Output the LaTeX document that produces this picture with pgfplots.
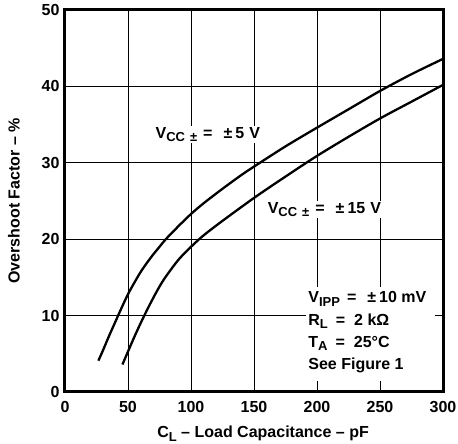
\documentclass[border=0pt]{standalone}
\usepackage{fontspec}
\setmainfont{Liberation Sans}
\usepackage{pgfplots}
\pgfplotsset{compat=1.18}
\newcommand{\sub}[1]{\raisebox{-3.5pt}{\fontsize{13}{14}\selectfont #1}}

\begin{document}
\begin{tikzpicture}
\begin{axis}[
    name=ax,
    scale only axis,
    width=378pt, height=382pt,
    xmin=0, xmax=300, ymin=0, ymax=50,
    xtick={0,50,...,300},
    ytick={0,10,...,50},
    major tick length=0pt,
    grid=major,
    grid style={black, line width=0.9pt},
    axis line style={line width=3pt},
    font=\fontsize{16}{19}\selectfont\bfseries,
    /pgf/number format/assume math mode=true,
    tick label style={font=\fontsize{16}{19}\selectfont\bfseries},
    xticklabel style={yshift=-6pt},
    yticklabel style={xshift=-2pt},
    xlabel={C\sub{L} – Load Capacitance – pF},
    ylabel={Overshoot Factor – \%},
    every axis x label/.style={at={(axis description cs:0.524,-0.120)}, anchor=base},
    every axis y label/.style={at={(axis description cs:-0.135,0.5)}, rotate=90, anchor=center},
]
% VCC = +-5 V
\addplot[black, line width=2.3pt, smooth] coordinates {
  (26.5,4.1) (30,5.4) (35,7.35) (40,9.2) (45,11.05) (50,12.8) (55,14.3)
  (60,15.7) (65,16.9) (70,18.0) (75,19.0) (80,20.0) (90,21.7) (100,23.3)
  (110,24.7) (125,26.6) (140,28.4) (150,29.5) (175,32.15) (200,34.6)
  (225,37.0) (250,39.4) (275,41.6) (300,43.6)
};
% VCC = +-15 V
\addplot[black, line width=2.3pt, smooth] coordinates {
  (45.6,3.6) (50,5.3) (55,7.2) (60,9.0) (65,10.7) (70,12.3) (75,13.8)
  (80,15.1) (90,17.3) (100,19.0) (110,20.5) (125,22.4) (150,25.4)
  (175,28.2) (200,30.9) (225,33.4) (250,35.8) (275,38.0) (300,40.2)
};
\node[anchor=base west, fill=white, inner sep=1pt] at (axis cs:71,33.2)
  {V\sub{CC\hspace{5pt}±}\hspace{6pt}=\hspace{11pt}±\hspace{3pt}5\hspace{5pt}V};
\node[anchor=base west, fill=white, inner sep=1pt] at (axis cs:160,23.4)
  {V\sub{CC\hspace{5pt}±}\hspace{6pt}=\hspace{11pt}±\hspace{3pt}15\hspace{5pt}V};
\fill[white] (axis cs:191,1.5) rectangle (axis cs:294,13.8);
\node[anchor=base west, inner sep=0pt] at (axis cs:193,11.7)
  {V\sub{IPP}\hspace{7pt}=\hspace{11pt}±\hspace{3pt}10 mV};
\node[anchor=base west, inner sep=0pt] at (axis cs:193,8.75)
  {R\sub{L}\hspace{8pt}=\hspace{9pt}2 kΩ};
\node[anchor=base west, inner sep=0pt] at (axis cs:193,5.85)
  {T\sub{A}\hspace{8pt}=\hspace{9pt}25°C};
\node[anchor=base west, inner sep=0pt] at (axis cs:193,2.9) {See Figure 1};
\end{axis}
\pgfresetboundingbox
\path ([xshift=-65pt,yshift=-52pt]ax.south west) rectangle ([xshift=15pt,yshift=10pt]ax.north east);
\end{tikzpicture}
\end{document}
